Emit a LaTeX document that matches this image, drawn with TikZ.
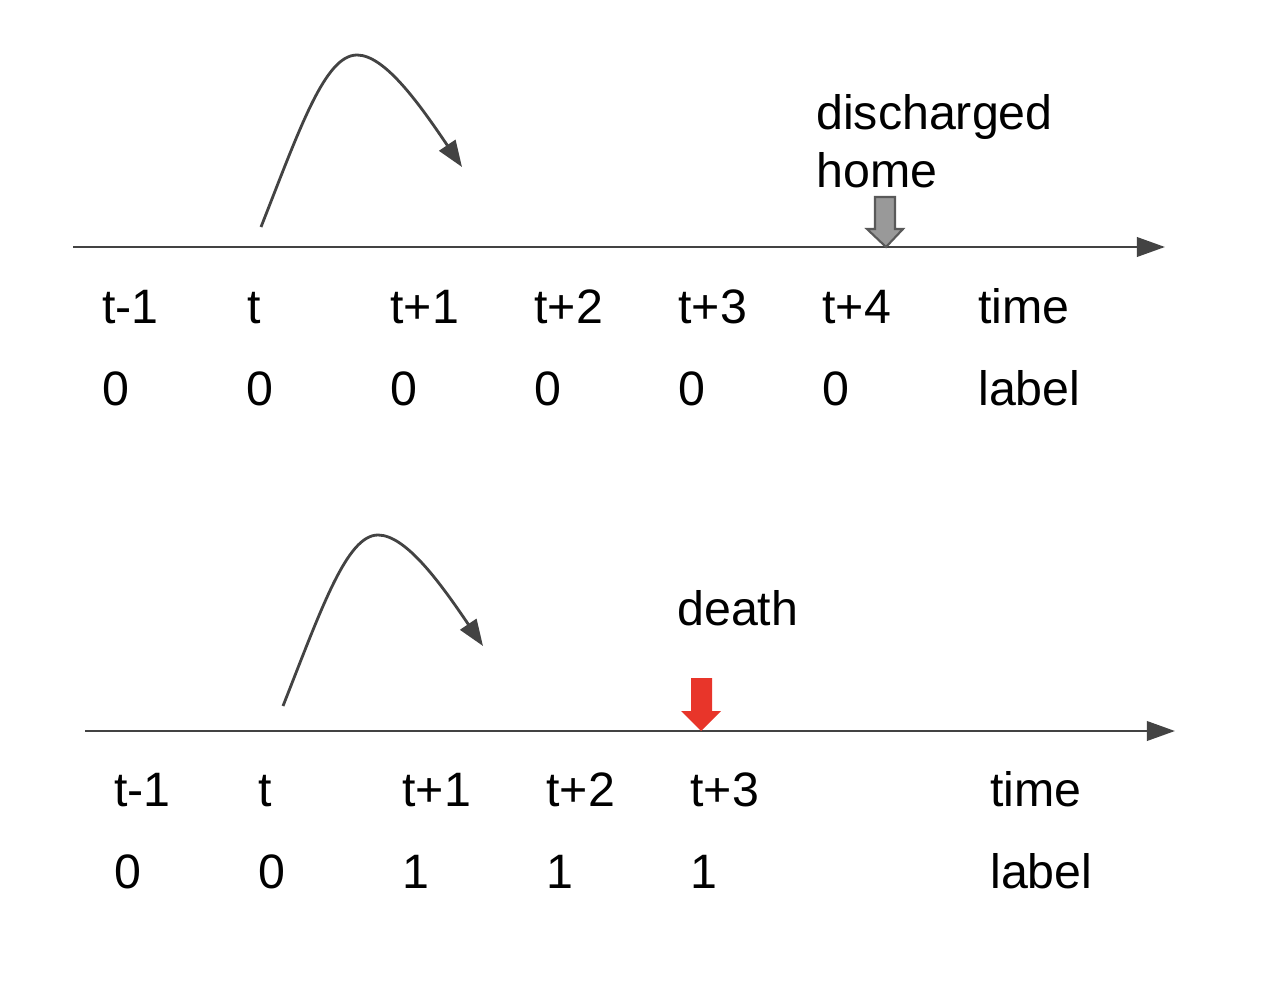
\documentclass[tikz,border=0pt]{standalone}
\usepackage{fontspec}
\setmainfont{Liberation Sans}
\usetikzlibrary{arrows.meta}
\definecolor{ln}{HTML}{434343}
\definecolor{grayfill}{HTML}{999999}
\definecolor{grayedge}{HTML}{595959}
\definecolor{redarrow}{HTML}{E8352A}
\tikzset{
  axis/.style={draw=ln, line width=1.6pt, -{Triangle[length=16pt,width=11pt]}},
  jump/.style={draw=ln, line width=1.6pt, -{Triangle[length=15pt,width=11pt]}},
  lbl/.style={anchor=base west, inner sep=0pt, font=\fontsize{27.5}{33}\selectfont, text=black},
}
\begin{document}
\begin{tikzpicture}[x=0.02cm, y=-0.02cm]
\useasboundingbox (0,0) rectangle (1274,980);
% ---------- top timeline ----------
\coordinate (a1s) at (73,247);
\coordinate (a1e) at (1165,247);
\draw[axis] (a1s) -- (a1e);
\coordinate (c1s) at (261,227);
\coordinate (c1p) at (357,55);
\coordinate (c1e) at (462,167);
\draw[jump] (c1s) .. controls (300,128) and (325,55) .. (c1p) .. controls (385,55) and (420,105) .. (c1e);
\coordinate (dis) at (886,247);
\draw[draw=grayedge, fill=grayfill, line width=1.2pt, line join=miter]
  (dis) -- ++(-19,-18) -- ++(8,0) -- ++(0,-32) -- ++(20,0) -- ++(0,32) -- ++(8,0) -- cycle;
\node[lbl] (dtxt1) at (816,130) {discharged};
\node[lbl] (dtxt2) at (816,187) {home};
\node[lbl] (t1a) at (102,323) {t-1};
\node[lbl] (t1b) at (247,323) {t};
\node[lbl] (t1c) at (390,323) {t+1};
\node[lbl] (t1d) at (534,323) {t+2};
\node[lbl] (t1e) at (678,323) {t+3};
\node[lbl] (t1f) at (822,323) {t+4};
\node[lbl] (t1g) at (978,323) {time};
\node[lbl] (l1a) at (102,405) {0};
\node[lbl] (l1b) at (246,405) {0};
\node[lbl] (l1c) at (390,405) {0};
\node[lbl] (l1d) at (534,405) {0};
\node[lbl] (l1e) at (678,405) {0};
\node[lbl] (l1f) at (822,405) {0};
\node[lbl] (l1g) at (978,405) {label};
% ---------- bottom timeline ----------
\coordinate (a2s) at (85,731);
\coordinate (a2e) at (1175,731);
\draw[axis] (a2s) -- (a2e);
\coordinate (c2s) at (283,706);
\coordinate (c2p) at (378,535);
\coordinate (c2e) at (483,646);
\draw[jump] (c2s) .. controls (322,607) and (347,535) .. (c2p) .. controls (406,535) and (441,584) .. (c2e);
\coordinate (dth) at (701,731);
\fill[redarrow]
  (dth) -- ++(-20,-20) -- ++(10,0) -- ++(0,-33) -- ++(21,0) -- ++(0,33) -- ++(9,0) -- cycle;
\node[lbl] (deathtxt) at (677,625) {death};
\node[lbl] (t2a) at (114,806) {t-1};
\node[lbl] (t2b) at (258,806) {t};
\node[lbl] (t2c) at (402,806) {t+1};
\node[lbl] (t2d) at (546,806) {t+2};
\node[lbl] (t2e) at (690,806) {t+3};
\node[lbl] (t2g) at (990,806) {time};
\node[lbl] (l2a) at (114,888) {0};
\node[lbl] (l2b) at (258,888) {0};
\node[lbl] (l2c) at (402,888) {1};
\node[lbl] (l2d) at (546,888) {1};
\node[lbl] (l2e) at (690,888) {1};
\node[lbl] (l2g) at (990,888) {label};
\end{tikzpicture}
\end{document}
